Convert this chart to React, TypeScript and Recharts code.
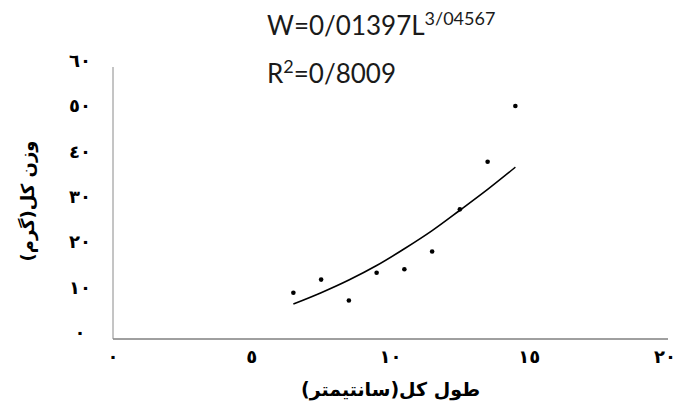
import React from 'react';
import { ComposedChart, Scatter, Line, XAxis, YAxis } from 'recharts';

// Total length (cm) of each sample
const lengths = [6.5, 7.5, 8.5, 9.5, 10.5, 11.5, 12.5, 13.5, 14.5];
// Total weight (g) observed
const weights = [10.2, 13.1, 8.5, 14.6, 15.4, 19.3, 28.6, 39.1, 51.4];
// Power trend line values
const trendWeights = [7.7, 10.2, 13.0, 16.2, 19.9, 23.9, 28.4, 33.0, 37.9];

const xTicks = [0, 5, 10, 15, 20];
const xTickLabels = ['٠', '٥', '١٠', '١٥', '٢٠'];
const yTicks = [0, 10, 20, 30, 40, 50, 60];
const yTickLabels = ['٠', '١٠', '٢٠', '٣٠', '٤٠', '٥٠', '٦٠'];

const xTitle = 'طول كل(سانتيمتر)';
const yTitle = 'وزن كل(گرم)';
const equation = 'W=0/01397L';
const equationExp = '3/04567';
const rSquared = '=0/8009';

const pointData = lengths.map((l, i) => ({ l, w: weights[i] }));
const trendData = lengths.map((l, i) => ({ l, t: trendWeights[i] }));

const AR_FONT = '"DejaVu Sans", sans-serif';

function XTick(props: any) {
  const { x, y, payload } = props;
  const idx = xTicks.indexOf(payload.value);
  return (
    <text x={x} y={y} dy={24} textAnchor="middle" fontFamily={AR_FONT} fontWeight="bold" fontSize={18} fill="#000">
      {xTickLabels[idx]}
    </text>
  );
}

function YTick(props: any) {
  const { x, y, payload } = props;
  const idx = yTicks.indexOf(payload.value);
  return (
    <text x={x - 33} y={y} dy={0} textAnchor="middle" fontFamily={AR_FONT} fontWeight="bold" fontSize={18} fill="#000">
      {yTickLabels[idx]}
    </text>
  );
}

function Dot(props: any) {
  const { cx, cy } = props;
  return <circle cx={cx} cy={cy} r={2.3} fill="#000" />;
}

export default function App() {
  return (
    <div style={{ position: 'absolute', left: 0, top: 0, width: 673, height: 407, background: '#fff', overflow: 'hidden' }}>
      <ComposedChart
        width={673}
        height={407}
        margin={{ top: 67, right: 5, bottom: 38, left: 73 }}
      >
        <XAxis
          type="number"
          dataKey="l"
          domain={[0, 20]}
          ticks={xTicks}
          tickLine={false}
          tickSize={0}
          tickMargin={0}
          height={30}
          axisLine={{ stroke: '#404040', strokeWidth: 1 }}
          tick={<XTick />}
          allowDataOverflow
          label={(p: any) => {
            const vb = p.viewBox;
            return (
              <text
                x={vb.x + vb.width / 2}
                y={396}
                textAnchor="middle"
                fontFamily={AR_FONT}
                fontWeight="bold"
                fontSize={19}
                fill="#000"
              >
                {xTitle}
              </text>
            );
          }}
        />
        <YAxis
          type="number"
          domain={[0, 60]}
          ticks={yTicks}
          tickLine={false}
          tickSize={0}
          tickMargin={0}
          width={40}
          axisLine={{ stroke: '#8a8a8a', strokeWidth: 1 }}
          tick={<YTick />}
          allowDataOverflow
          label={(p: any) => {
            const vb = p.viewBox;
            const cx = 27;
            const cy = vb.y + vb.height / 2 - 2;
            return (
              <text
                x={cx}
                y={cy}
                transform={`rotate(-90 ${cx} ${cy})`}
                textAnchor="middle"
                dominantBaseline="central"
                fontFamily={AR_FONT}
                fontWeight="bold"
                fontSize={18}
                fill="#000"
              >
                {yTitle}
              </text>
            );
          }}
        />
        <Scatter data={pointData} dataKey="w" shape={<Dot />} isAnimationActive={false} />
        <Line
          data={trendData}
          dataKey="t"
          type="monotone"
          stroke="#000"
          strokeWidth={1.6}
          dot={false}
          activeDot={false}
          isAnimationActive={false}
        />
      </ComposedChart>
      <svg width={673} height={407} style={{ position: 'absolute', left: 0, top: 0, pointerEvents: 'none' }}>
        <text x={267} y={35} fontFamily="Lato, sans-serif" fontSize={26} fill="#1a1a1a">
          {equation}
          <tspan dy={-10} fontSize={18}>{equationExp}</tspan>
        </text>
        <text x={267} y={83} fontFamily="Lato, sans-serif" fontSize={26} fill="#1a1a1a">
          R
          <tspan dy={-10} fontSize={18}>2</tspan>
          <tspan dy={10}>{rSquared}</tspan>
        </text>
      </svg>
    </div>
  );
}
